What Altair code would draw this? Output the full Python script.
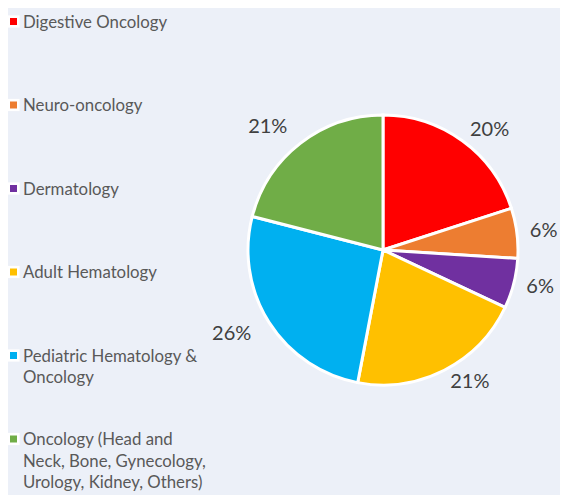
import altair as alt
import pandas as pd

categories = [
    "Digestive Oncology",
    "Neuro-oncology",
    "Dermatology",
    "Adult Hematology",
    "Pediatric Hematology & Oncology",
    "Oncology (Head and Neck, Bone, Gynecology, Urology, Kidney, Others)",
]
legend_labels = [
    "Digestive Oncology",
    "Neuro-oncology",
    "Dermatology",
    "Adult Hematology",
    "Pediatric Hematology &\nOncology",
    "Oncology (Head and\nNeck, Bone, Gynecology,\nUrology, Kidney, Others)",
]
values = [20, 6, 6, 21, 26, 21]
pct_labels = ["20%", "6%", "6%", "21%", "26%", "21%"]
colors = ["#FF0000", "#ED7D31", "#7030A0", "#FFC000", "#00B0F0", "#70AD47"]

df = pd.DataFrame({
    "category": categories,
    "legend": legend_labels,
    "value": values,
    "pct": pct_labels,
    "idx": list(range(len(categories))),
})

color = alt.Color("category:N", scale=alt.Scale(domain=categories, range=colors), legend=None)
base = alt.Chart(df)

cx, cy = 375, 242

pie = base.mark_arc(outerRadius=135, stroke="white", strokeWidth=3).encode(
    theta=alt.Theta("value:Q", stack=True),
    order=alt.Order("idx:Q"),
    color=color,
    x=alt.value(cx),
    y=alt.value(cy),
)

stacked = base.transform_stack(
    stack="value", as_=["v0", "v1"], groupby=[], sort=[alt.SortField("idx")]
).transform_calculate(mid="(datum.v0 + datum.v1) / 2")


def label_layer(cond, align, r):
    return stacked.transform_filter(cond).mark_text(
        radius=r, align=align, baseline="middle",
        font="Lato", fontSize=20, color="#404040",
    ).encode(
        theta=alt.Theta("mid:Q", stack=None),
        text="pct:N",
        x=alt.value(cx),
        y=alt.value(cy),
    )


text_right = label_layer("datum.mid <= 50", "left", 148)
text_left = label_layer("datum.mid > 50", "right", 156)

ypos = alt.Y("category:N", sort=categories, axis=None,
             scale=alt.Scale(type="point", range=[13.5, 431], padding=0))

leg_bg = base.mark_square(size=150, color="white", opacity=1, cornerRadius=2).encode(
    x=alt.value(5.5), y=ypos
)
leg_sq = base.mark_square(size=49, opacity=1).encode(
    x=alt.value(5.5), y=ypos, color=color
)
leg_txt = base.mark_text(
    align="left", baseline="alphabetic", dy=6, font="Lato", fontSize=16.8,
    color="#595959", lineBreak="\n", lineHeight=21.5,
).encode(x=alt.value(15), y=ypos, text="legend:N")

chart = alt.layer(pie, text_right, text_left, leg_bg, leg_sq, leg_txt).properties(
    width=552, height=487, background="#ECF0F8", padding=0,
    autosize=alt.AutoSizeParams(type="none"),
).configure_view(stroke=None)

chart.save("out.html", embed_options={"renderer": "svg", "actions": False})
